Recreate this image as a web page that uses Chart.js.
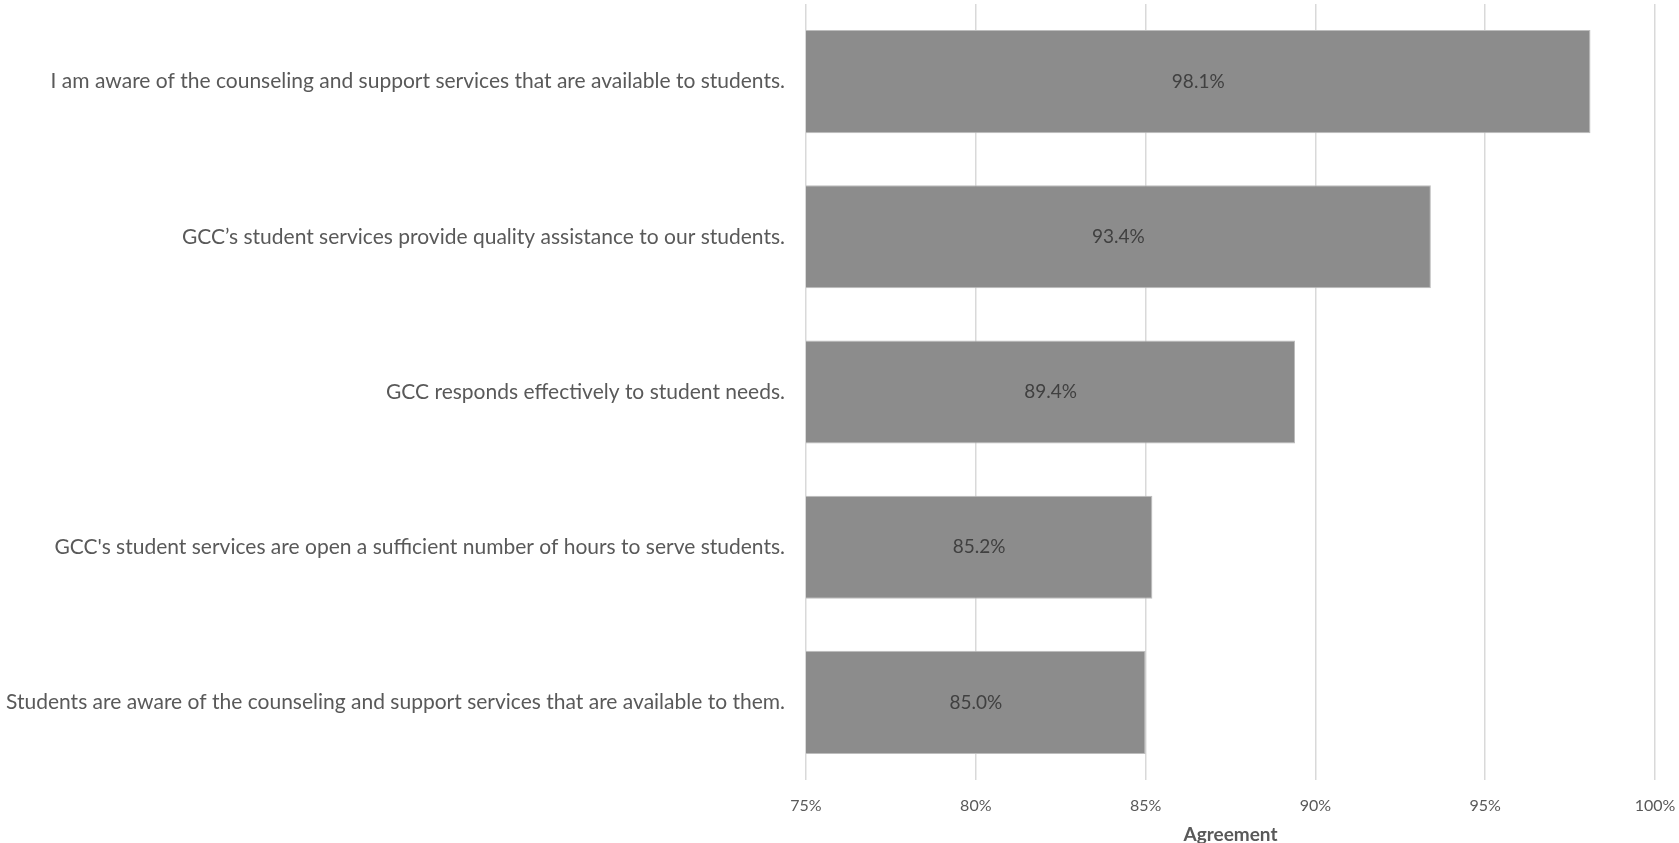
<!DOCTYPE html>
<html>
<head>
<meta charset="utf-8">
<title>Agreement</title>
<script src="https://cdn.jsdelivr.net/npm/chart.js@4.4.1/dist/chart.umd.min.js"></script>
<style>
  html, body { margin: 0; padding: 0; background: #fff; }
  #wrap { width: 1679px; height: 843px; position: relative; }
</style>
</head>
<body>
<div id="wrap"><canvas id="chart"></canvas></div>
<script>
// survey statements (top to bottom)
const statements = [
    "I am aware of the counseling and support services that are available to students.",
    "GCC\u2019s student services provide quality assistance to our students.",
    "GCC responds effectively to student needs.",
    "GCC's student services are open a sufficient number of hours to serve students.",
    "Students are aware of the counseling and support services that are available to them."
];
// percent agreeing
const agreement = [98.1, 93.4, 89.4, 85.2, 85.0];
const xTicks = [75, 80, 85, 90, 95, 100];

const FONT = "Lato, 'Open Sans', sans-serif";

// draws the value in the middle of the visible part of each bar
const barValues = {
    id: 'barValues',
    afterDatasetsDraw(chart) {
        const ctx = chart.ctx;
        const left = chart.chartArea.left;
        ctx.save();
        ctx.font = "19px " + FONT;
        ctx.fillStyle = '#404040';
        ctx.textAlign = 'center';
        ctx.textBaseline = 'middle';
        chart.getDatasetMeta(0).data.forEach(function (bar, i) {
            // base sits at 0%, far off the axis, so clamp it to the plot edge
            const start = Math.max(bar.base, left);
            ctx.fillText(agreement[i].toFixed(1) + '%', (start + bar.x) / 2, bar.y);
        });
        ctx.restore();
    }
};

new Chart(document.getElementById('chart'), {
    type: 'bar',
    data: {
        labels: statements,
        datasets: [{
            label: 'Agreement',
            data: agreement,
            backgroundColor: '#8c8c8c',
            borderColor: '#bdbdbd',
            borderWidth: 1,
            categoryPercentage: 1,
            barPercentage: 0.664
        }]
    },
    options: {
        indexAxis: 'y',
        responsive: true,
        maintainAspectRatio: false,
        animation: false,
        layout: { padding: { top: 4, right: 24, left: 0, bottom: 0 } },
        plugins: {
            legend: { display: false },
            tooltip: { enabled: false }
        },
        scales: {
            x: {
                min: 75,
                max: 100,
                afterBuildTicks(scale) {
                    scale.ticks = xTicks.map(v => ({ value: v }));
                },
                afterFit(scale) {
                    scale.height = 63;
                    scale.paddingLeft = 0;
                    scale.paddingRight = 0;
                },
                grid: { color: '#d9d9d9', lineWidth: 1.5, drawTicks: false },
                border: { display: false },
                ticks: {
                    padding: 16,
                    color: '#595959',
                    font: { family: FONT, size: 16 },
                    callback: v => v + '%'
                },
                title: {
                    display: true,
                    text: 'Agreement',
                    color: '#595959',
                    font: { family: FONT, size: 19, weight: 'bold' },
                    padding: { top: 0, bottom: -3 }
                }
            },
            y: {
                afterFit(scale) {
                    scale.width = 806;
                    scale.paddingTop = 0;
                    scale.paddingBottom = 0;
                },
                grid: { display: false, drawTicks: false },
                border: { display: false },
                ticks: {
                    padding: 21,
                    color: '#595959',
                    font: { family: FONT, size: 21 }
                }
            }
        }
    },
    plugins: [barValues]
});
</script>
</body>
</html>
